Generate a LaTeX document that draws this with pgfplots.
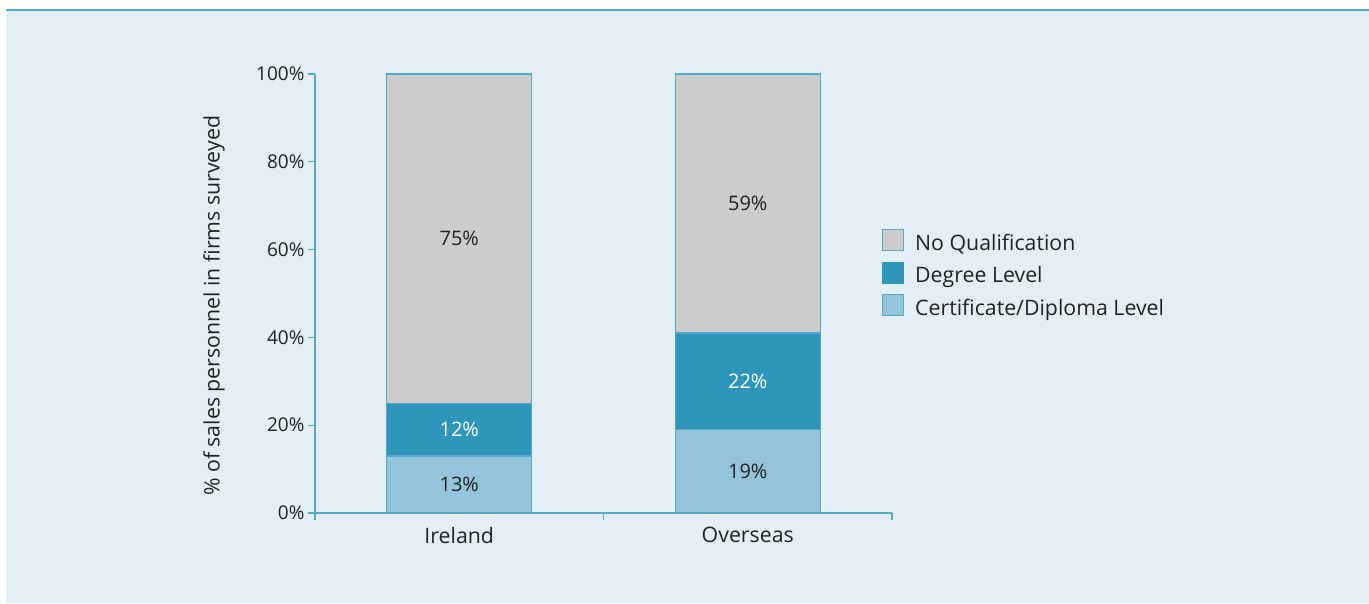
\documentclass[border=0pt]{standalone}
\usepackage{pgfplots}
\pgfplotsset{compat=1.18}
\usepackage{fontspec}
\setmainfont{Open Sans}
\definecolor{bg}{HTML}{E4EFF5}
\definecolor{ax}{HTML}{56A9C9}
\definecolor{deg}{HTML}{2E96BA}
\definecolor{cert}{HTML}{94C4DA}
\definecolor{noq}{HTML}{CCCCCC}
\definecolor{txt}{HTML}{222222}
\newcommand\f{\fontsize{19}{22}\selectfont}
\newcommand\ft{\fontsize{21.3}{25}\selectfont}
\newcommand\fv{\fontsize{20}{24}\selectfont}
\begin{document}
\begin{tikzpicture}[x=1pt,y=1pt,font=\f,text=txt]
\path[use as bounding box] (0,0) rectangle (1369,603);
\fill[bg] (6,0) rectangle (1369,593);
\draw[ax, line width=2pt] (6,593) -- (1369,593);
\begin{axis}[
  at={(315pt,90pt)}, anchor=south west,
  scale only axis, width=577pt, height=439pt,
  xmin=-0.5, xmax=1.5, ymin=0, ymax=100,
  axis x line*=bottom, axis y line*=left,
  axis line style={ax, line width=1.3pt},
  xtick={-0.5,0.5,1.5}, xticklabels={},
  extra x ticks={0,1}, extra x tick labels={Ireland,Overseas},
  extra x tick style={major tick length=0pt, xticklabel style={yshift=-11pt, font=\ft}},
  ytick={0,20,40,60,80,100},
  yticklabels={0\%,20\%,40\%,60\%,80\%,100\%},
  tick style={ax, line width=1.3pt},
  tick align=outside, major tick length=7pt,
  ylabel={\% of sales personnel in firms surveyed},
  ylabel style={at={(axis description cs:-0.175,0.472)}, anchor=center, font=\ft},
  ybar stacked, bar width=145pt,
  reverse legend,
  legend style={at={(axis description cs:0.977,0.652)}, anchor=north west,
    draw=none, fill=none, row sep=7pt, font=\ft,
    nodes={inner sep=3pt}},
  legend cell align=left,
]
\addplot[fill=cert, draw=ax, line width=1.2pt,
  legend image code/.code={\draw[fill=cert,draw=ax,line width=1.3pt] (0pt,-8pt) rectangle (21pt,13pt);\path (29pt,0pt);}]
  coordinates {(0,13) (1,19)};
\addlegendentry{Certificate/Diploma Level}
\addplot[fill=deg, draw=ax, line width=1.2pt,
  legend image code/.code={\draw[fill=deg,draw=deg,line width=1.3pt] (0pt,-8pt) rectangle (21pt,13pt);\path (29pt,0pt);}]
  coordinates {(0,12) (1,22)};
\addlegendentry{Degree Level}
\addplot[fill=noq, draw=ax, line width=1.2pt,
  legend image code/.code={\draw[fill=noq,draw=ax,line width=1.3pt] (0pt,-8pt) rectangle (21pt,13pt);\path (29pt,0pt);}]
  coordinates {(0,75) (1,59)};
\addlegendentry{No Qualification}
\end{axis}
\begin{axis}[
  at={(315pt,90pt)}, anchor=south west,
  scale only axis, width=577pt, height=439pt,
  xmin=-0.5, xmax=1.5, ymin=0, ymax=100, hide axis,
  nodes near coords, point meta=explicit symbolic,
  every node near coord/.style={anchor=center, font=\fv},
]
\addplot[draw=none, mark=none, nodes near coords style={text=txt}]
  coordinates {(0,6.5)[13\%] (0,62.5)[75\%] (1,9.5)[19\%] (1,70.5)[59\%]};
\addplot[draw=none, mark=none, nodes near coords style={text=white}]
  coordinates {(0,19)[12\%] (1,30)[22\%]};
\end{axis}
\end{tikzpicture}
\end{document}
